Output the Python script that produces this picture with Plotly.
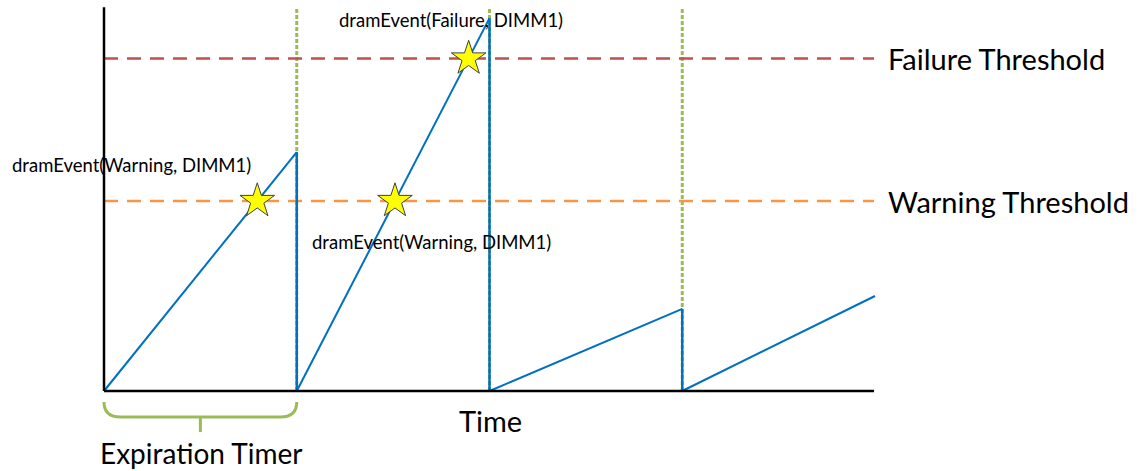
import plotly.graph_objects as go

# ---- data ----
period_starts = [0, 1, 2, 3]            # expiration timer boundaries (time units)
period_peaks = [5.03, 7.85, 1.73, 2.0]  # error count reached at end of each period
warning_threshold = 4.0
failure_threshold = 7.0
star_labels = ["dramEvent(Warning, DIMM1)", "dramEvent(Warning, DIMM1)", "dramEvent(Failure, DIMM1)"]
threshold_labels = ["Failure Threshold", "Warning Threshold"]
axis_labels = ["Time", "Expiration Timer"]
x_max = 3.995
y_top = 8.08

BLUE = "#0070C0"
GREEN = "#9BBB59"
RED = "#C0504D"
ORANGE = "#F79646"
FONT = "Lato"

# page geometry (screenshot pixels)
BODY = 0
FIG_W, FIG_H = 1140, 471
ORIGIN_X, ORIGIN_Y = 104, 391     # screenshot px of data (0, 0)
PX_X, PX_Y = 192.75, 47.5         # pixels per data unit


def px2x(p):
    return (p - ORIGIN_X) / PX_X


def py2y(q):
    return (ORIGIN_Y - q) / PX_Y


# sawtooth series
saw_x, saw_y = [], []
for s, p in zip(period_starts, period_peaks):
    saw_x += [s, s + 1, None]
    saw_y += [0, p, None]
drop_x, drop_y = [], []
for s, p in zip(period_starts[:-1], period_peaks[:-1]):
    drop_x += [s + 1, s + 1, None]
    drop_y += [p, 0, None]

# threshold crossing points (stars)
stars_x, stars_y = [], []
for s, p in zip(period_starts, period_peaks):
    for th in (warning_threshold, failure_threshold):
        if p >= th:
            stars_x.append(s + th / p)
            stars_y.append(th)

fig = go.Figure()

for b in period_starts[1:]:
    fig.add_trace(go.Scatter(x=[b, b], y=[0, y_top], mode="lines",
                             line=dict(color=GREEN, width=3, dash="4px,2px"),
                             hoverinfo="skip", showlegend=False))

fig.add_trace(go.Scatter(x=[0, x_max], y=[failure_threshold] * 2, mode="lines",
                         line=dict(color=RED, width=2.5, dash="14px,9px"), showlegend=False))
fig.add_trace(go.Scatter(x=[0, x_max], y=[warning_threshold] * 2, mode="lines",
                         line=dict(color=ORANGE, width=2.5, dash="14px,9px"), showlegend=False))

fig.add_trace(go.Scatter(x=saw_x, y=saw_y, mode="lines",
                         line=dict(color=BLUE, width=2), showlegend=False))
fig.add_trace(go.Scatter(x=drop_x, y=drop_y, mode="lines",
                         line=dict(color=BLUE, width=2.5), showlegend=False))

fig.add_trace(go.Scatter(x=stars_x, y=stars_y, mode="markers",
                         marker=dict(symbol="star", size=26, color="#FFFF00",
                                     line=dict(color="#404040", width=1)),
                         showlegend=False))

# axes lines
fig.add_shape(type="line", x0=0, x1=0, y0=0, y1=y_top, line=dict(color="black", width=2.5))
fig.add_shape(type="line", x0=0, x1=x_max, y0=0, y1=0, line=dict(color="black", width=2.5))

# brace under first period
bx0, bx1 = period_starts[0], period_starts[1]
bm = (bx0 + bx1) / 2
yt, yb, ytip = py2y(402), py2y(417), py2y(432)
r = 0.085
path = (f"M {bx0},{yt} Q {bx0},{yb} {bx0 + r},{yb} "
        f"L {bx1 - r},{yb} Q {bx1},{yb} {bx1},{yt} "
        f"M {bm},{yb} L {bm},{ytip}")
fig.add_shape(type="path", path=path, line=dict(color=GREEN, width=3))

# labels
small = dict(family=FONT, size=18.5, color="black")
big = dict(family=FONT, size=29, color="black")
fig.add_annotation(x=px2x(10), y=py2y(165), text=star_labels[0], showarrow=False,
                   xanchor="left", font=small)
fig.add_annotation(x=px2x(310), y=py2y(242), text=star_labels[1], showarrow=False,
                   xanchor="left", font=small)
fig.add_annotation(x=px2x(451), y=py2y(20), text=star_labels[2], showarrow=False,
                   xanchor="center", font=small)
fig.add_annotation(x=px2x(886), y=failure_threshold, text=threshold_labels[0], showarrow=False,
                   xanchor="left", font=big)
fig.add_annotation(x=px2x(886), y=warning_threshold, text=threshold_labels[1], showarrow=False,
                   xanchor="left", font=big)
fig.add_annotation(x=px2x(490), y=py2y(420), text=axis_labels[0], showarrow=False, font=big)
fig.add_annotation(x=px2x(201), y=py2y(453), text=axis_labels[1], showarrow=False,
                   font=dict(family=FONT, size=28, color="black"))

fig.update_layout(
    width=FIG_W, height=FIG_H,
    margin=dict(l=0, r=0, t=0, b=0),
    plot_bgcolor="white", paper_bgcolor="white",
    xaxis=dict(range=[px2x(BODY), px2x(BODY + FIG_W)], visible=False, fixedrange=True),
    yaxis=dict(range=[py2y(BODY + FIG_H), py2y(BODY)], visible=False, fixedrange=True),
)

fig.write_html(
    "out.html",
    config={"displayModeBar": False},
    post_script="document.body.style.margin='0px';document.body.style.overflow='hidden';",
)
